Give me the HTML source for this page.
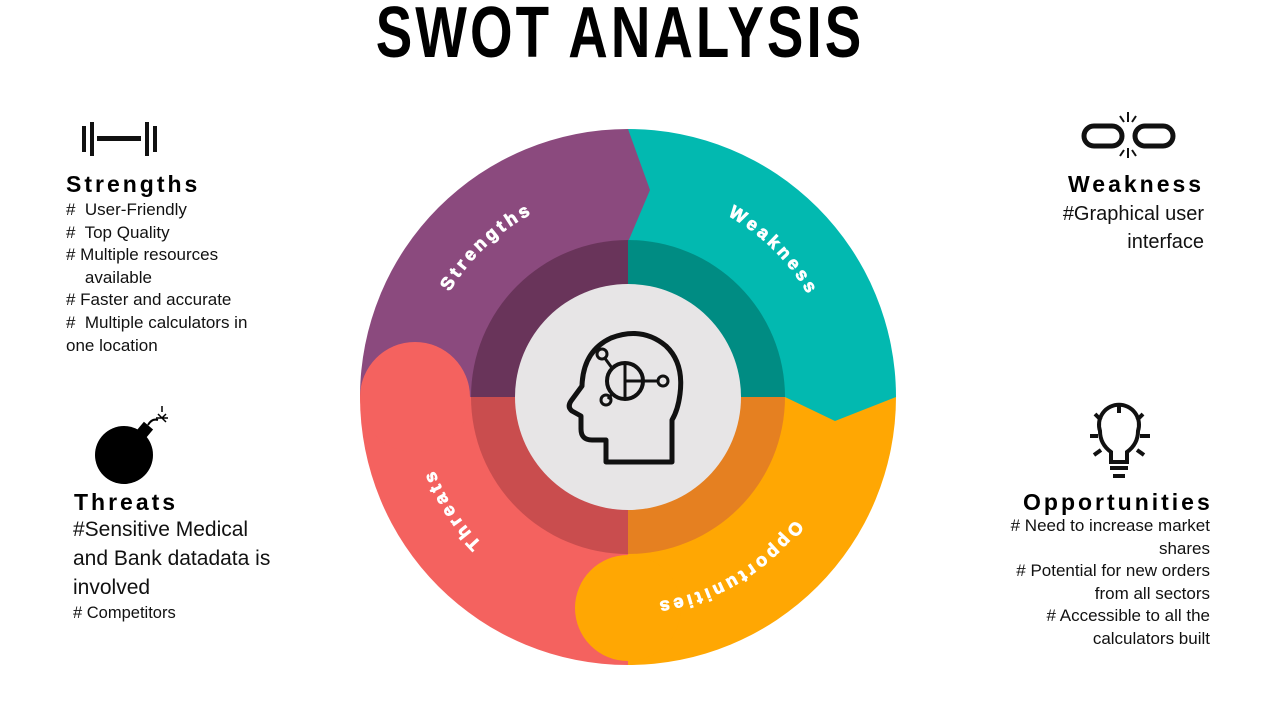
<!DOCTYPE html>
<html><head><meta charset="utf-8"><style>
body{margin:0;width:1280px;height:720px;background:#fff;overflow:hidden;position:relative;font-family:"Liberation Sans",sans-serif;}
.t{position:absolute;color:#111;}
.h{font-weight:bold;font-size:23px;letter-spacing:3px;color:#000;}
.l{font-size:17px;line-height:22.6px;}
</style></head><body>
<div class="t" style="left:0;width:1240px;top:-8px;text-align:center;font-weight:bold;font-size:72px;letter-spacing:4px;transform:scaleX(0.76);transform-origin:620px 0;color:#000;">SWOT ANALYSIS</div>

<svg width="1280" height="720" style="position:absolute;left:0;top:0">
<g>
<path d="M628,397 L360,397 A268,268 0 0 1 628,129 Z" fill="#8B4A7E"/>
</g>
<g>
<path d="M628,397 L628,129 A268,268 0 0 1 896,397 Z" fill="#02B9B0"/>
<polygon points="628,129 650,190 628,242" fill="#8B4A7E"/>
</g>
<g>
<path d="M628,397 L628,665 A268,268 0 0 1 360,397 Z" fill="#F4625F"/>
<circle cx="415" cy="397" r="55" fill="#F4625F"/>
</g>
<g>
<path d="M628,397 L896,397 A268,268 0 0 1 628,665 Z" fill="#FFA703"/>
<polygon points="785,397 835,421 896,397" fill="#02B9B0"/>
<circle cx="628" cy="608" r="53" fill="#FFA703"/>
</g>
<g>
<path d="M628,397 L471,397 A157,157 0 0 1 628,240 Z" fill="#69345A"/>
<path d="M628,397 L628,240 A157,157 0 0 1 785,397 Z" fill="#008C83"/>
<path d="M628,397 L785,397 A157,157 0 0 1 628,554 Z" fill="#E58021"/>
<path d="M628,397 L628,554 A157,157 0 0 1 471,397 Z" fill="#C94D4E"/>
</g>
<circle cx="628" cy="397" r="113" fill="#E7E5E6"/>
<g fill="none" stroke="#111" stroke-width="5" stroke-linejoin="round">
<path d="M606,462 L606,440 L592,440 Q581,440 581,429 L581,416 L572,411 Q567,407 571,401 L582,386 Q583,351 611,338 Q642,326 666,346 Q684,363 680,394 Q678,410 672,420 L672,462 Z"/>
<circle cx="625" cy="381" r="18" stroke-width="4"/>
<line x1="625" y1="363" x2="625" y2="399" stroke-width="3"/>
<line x1="625" y1="381" x2="659" y2="381" stroke-width="3"/>
<line x1="612" y1="368" x2="604" y2="357" stroke-width="3"/>
<line x1="612" y1="394" x2="608" y2="399" stroke-width="3"/>
<circle cx="602" cy="354" r="5" stroke-width="3"/>
<circle cx="606" cy="400" r="5" stroke-width="3"/>
<circle cx="663" cy="381" r="5" stroke-width="3"/>
</g>
<defs><path id="ring" d="M416,397 A212,212 0 1 1 840,397 A212,212 0 1 1 416,397"/></defs>
<g font-family="Liberation Sans, sans-serif" font-weight="bold" font-size="18" letter-spacing="4" fill="#fff" stroke="#fff" stroke-width="0.8" text-anchor="middle" dominant-baseline="middle">
<text><textPath href="#ring" startOffset="13%">Strengths</textPath></text>
<text><textPath href="#ring" startOffset="37.5%">Weakness</textPath></text>
<text><textPath href="#ring" startOffset="66.5%">Opportunities</textPath></text>
<text><textPath href="#ring" startOffset="91%">Threats</textPath></text>
</g>
<g fill="#111">
<rect x="82" y="126" width="4" height="26"/><rect x="90" y="122" width="4" height="34"/>
<rect x="97" y="136" width="44" height="5"/>
<rect x="145" y="122" width="4" height="34"/><rect x="153" y="126" width="4" height="26"/>
</g>
<g fill="none" stroke="#111" stroke-width="5">
<rect x="1084" y="126" width="38" height="20" rx="10"/>
<rect x="1135" y="126" width="38" height="20" rx="10"/>
<line x1="1128" y1="112" x2="1128" y2="122" stroke-width="2"/>
<line x1="1128" y1="148" x2="1128" y2="158" stroke-width="2"/>
<line x1="1120" y1="116" x2="1124" y2="122" stroke-width="2"/>
<line x1="1136" y1="116" x2="1132" y2="122" stroke-width="2"/>
<line x1="1120" y1="156" x2="1124" y2="150" stroke-width="2"/>
<line x1="1136" y1="156" x2="1132" y2="150" stroke-width="2"/>
</g>
<g fill="#000">
<circle cx="124" cy="455" r="29"/>
<rect x="138" y="424" width="12" height="14" transform="rotate(40 144 431)"/>
<path d="M148,425 Q152,418 158,420" stroke="#000" stroke-width="2" fill="none"/>
<path d="M162,412 l0,-6 M162,418 l6,0 M162,418 l-6,0 M162,418 l4,-4 M162,418 l-4,-4 M162,418 l4,4" stroke="#000" stroke-width="1.5"/>
</g>
<g fill="none" stroke="#111" stroke-width="4">
<path d="M1111,462 L1111,452 Q1100,444 1100,431 A20,20 0 1 1 1138,431 Q1138,444 1127,452 L1127,462 Z"/>
<line x1="1110" y1="468" x2="1128" y2="468"/><line x1="1113" y1="476" x2="1125" y2="476"/>
<line x1="1119" y1="404" x2="1119" y2="413"/>
<line x1="1090" y1="436" x2="1098" y2="436"/><line x1="1140" y1="436" x2="1150" y2="436"/>
<line x1="1095" y1="414" x2="1101" y2="420"/><line x1="1143" y1="414" x2="1137" y2="420"/>
<line x1="1094" y1="455" x2="1101" y2="450"/><line x1="1144" y1="455" x2="1137" y2="450"/>
</g>
</svg>

<div class="t h" style="left:66px;top:171px">Strengths</div>
<div class="t l" style="left:66px;top:199px">#&nbsp; User-Friendly<br>#&nbsp; Top Quality<br># Multiple resources<br>&nbsp;&nbsp;&nbsp; available<br># Faster and accurate<br>#&nbsp; Multiple calculators in<br>one location</div>

<div class="t h" style="left:1068px;top:171px">Weakness</div>
<div class="t" style="right:76px;top:200px;font-size:20px;line-height:28px;text-align:right">#Graphical user<br>interface</div>

<div class="t h" style="left:74px;top:489px">Threats</div>
<div class="t" style="left:73px;top:515px;font-size:21px;line-height:29px">#Sensitive Medical<br>and Bank datadata is<br>involved</div>
<div class="t" style="left:73px;top:604px;font-size:16.5px"># Competitors</div>

<div class="t h" style="left:1023px;top:489px">Opportunities</div>
<div class="t l" style="right:70px;top:515px;text-align:right"># Need to increase market<br>shares<br># Potential for new orders<br>from all sectors<br># Accessible to all the<br>calculators built</div>
</body></html>
